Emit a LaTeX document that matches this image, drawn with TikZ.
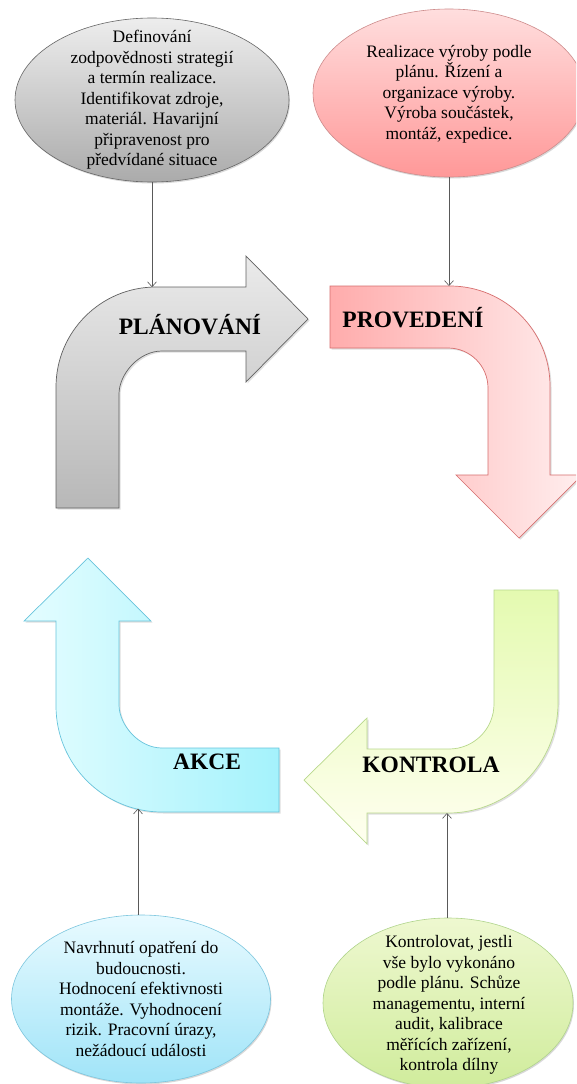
\documentclass[tikz,border=0pt]{standalone}
\usepackage{fontspec}
\setmainfont{Liberation Serif}
\usetikzlibrary{shapes.geometric,arrows.meta,shadows}
\begin{document}
\begin{tikzpicture}[x=1pt,y=-1pt,
 ell/.style={ellipse, draw, line width=0.6pt, inner sep=0pt,
   drop shadow={opacity=0.3,shadow xshift=1pt,shadow yshift=-1.5pt}},
 etext/.style={align=center, font=\rmfamily\fontsize{17.5}{20.5}\selectfont, inner sep=0pt},
 bigarrow/.style={line width=0.7pt,
   drop shadow={opacity=0.25,shadow xshift=1.5pt,shadow yshift=-1.5pt}},
 head/.style={font=\rmfamily\fontsize{23.5}{28}\selectfont\bfseries, anchor=base, inner sep=0pt},
 conn/.style={draw=black!65, line width=0.6pt, -{Straight Barb[length=5pt,width=9pt]}}
]
\useasboundingbox (0,0) rectangle (576,1084);
\clip (0,0) rectangle (576,1084);
\fill[white] (0,0) rectangle (576,1084);

% PLANOVANI arrow (gray)
\path[bigarrow, draw=black!62, top color=black!8, bottom color=black!28]
 (56,508) -- (56,387) .. controls (56,331.8) and (100.8,287) .. (156,287)
 -- (246,287) -- (246,256) -- (308,319) -- (246,382) -- (246,351) -- (162,351)
 .. controls (138.3,351) and (119,374.7) .. (119,394) -- (119,508) -- cycle;
\coordinate (plTop) at (152,287.2);

% PROVEDENI arrow (red)
\path[bigarrow, draw={rgb,255:red,215;green,110;blue,110}, left color={rgb,255:red,255;green,172;blue,172}, right color={rgb,255:red,255;green,238;blue,238}]
 (330,286) -- (450,286) .. controls (505.2,286) and (550,330.8) .. (550,386)
 -- (550,475) -- (582,475) -- (519,538) -- (456,475) -- (488,475) -- (488,388)
 .. controls (488,365.9) and (470.1,348) .. (448,348) -- (330,348) -- cycle;
\coordinate (prTop) at (449,286);

% AKCE arrow (cyan)
\path[bigarrow, draw={rgb,255:red,104;green,196;blue,220}, left color={rgb,255:red,228;green,253;blue,255}, right color={rgb,255:red,164;green,242;blue,252}]
 (56,621) -- (56,706) .. controls (56,764.5) and (103.5,812) .. (162,812)
 -- (279,812) -- (279,748) -- (162,748) .. controls (138.3,748) and (119,724.3) .. (119,705)
 -- (119,621) -- (151,621) -- (88,558) -- (24,621) -- cycle;
\coordinate (akBot) at (138,808.5);

% KONTROLA arrow (green)
\path[bigarrow, draw={rgb,255:red,184;green,216;blue,140}, top color={rgb,255:red,228;green,250;blue,176}, bottom color={rgb,255:red,255;green,255;blue,240}]
 (494,590) -- (558,590) -- (558,703) .. controls (558,763.7) and (508.7,813) .. (448,813)
 -- (367,813) -- (367,844) -- (304,780) -- (367,718) -- (367,749) -- (449,749)
 .. controls (473.9,749) and (494,728.9) .. (494,704) -- cycle;
\coordinate (koBot) at (447,813);

% headings
\node[head] (hpl) at (190,334) {PLÁNOVÁNÍ};
\node[head] (hpr) at (413,327) {PROVEDENÍ};
\node[head] (hak) at (207,769) {AKCE};
\node[head] (hko) at (431,772) {KONTROLA};

% ellipses
\node[ell, minimum width=274pt, minimum height=164pt, draw=black!60, top color=black!7, bottom color=black!33] (eg) at (152,100) {};
\node[etext] (tg) at (152,100) {Definování\\zodpovědnosti strategií\\a termín realizace.\\Identifikovat zdroje,\\materiál. Havarijní\\připravenost pro\\předvídané situace};

\node[ell, minimum width=272pt, minimum height=168pt, draw={rgb,255:red,205;green,140;blue,140}, top color={rgb,255:red,255;green,222;blue,222}, bottom color={rgb,255:red,255;green,152;blue,152}] (er) at (449,93) {};
\node[etext] (tr) at (449,94) {Realizace výroby podle\\plánu. Řízení a\\organizace výroby.\\Výroba součástek,\\montáž, expedice.};

\node[ell, minimum width=259pt, minimum height=168pt, draw={rgb,255:red,124;green,198;blue,222}, top color={rgb,255:red,232;green,250;blue,255}, bottom color={rgb,255:red,160;green,228;blue,248}] (ec) at (141,999) {};
\node[etext] (tc) at (141,999) {Navrhnutí opatření do\\budoucnosti.\\Hodnocení efektivnosti\\montáže. Vyhodnocení\\rizik. Pracovní úrazy,\\nežádoucí události};

\node[ell, minimum width=250pt, minimum height=170pt, draw={rgb,255:red,176;green,212;blue,140}, top color={rgb,255:red,238;green,248;blue,208}, bottom color={rgb,255:red,208;green,236;blue,156}] (eo) at (448,1003) {};
\node[etext] (to) at (449,1005) {Kontrolovat, jestli\\vše bylo vykonáno\\podle plánu. Schůze\\managementu, interní\\audit, kalibrace\\měřících zařízení,\\kontrola dílny};

% connectors
\draw[conn] (eg.south) -- (plTop);
\draw[conn] (er.south) -- (prTop);
\draw[conn] (ec.north -| akBot) -- (akBot);
\draw[conn] (eo.north -| koBot) -- (koBot);
\end{tikzpicture}
\end{document}
